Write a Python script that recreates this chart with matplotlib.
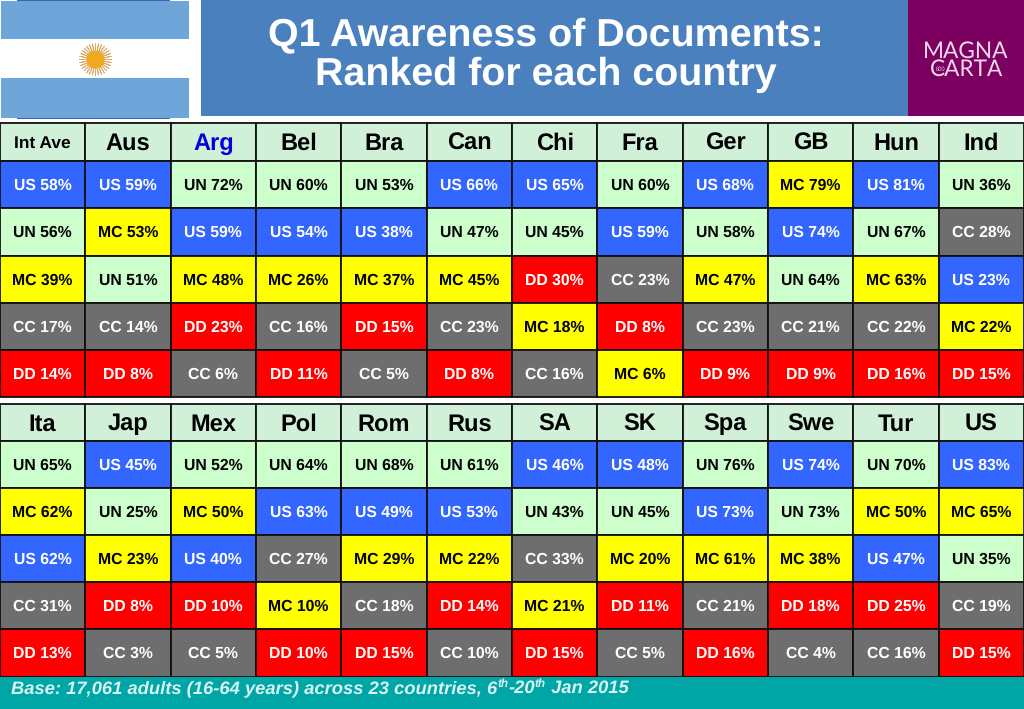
import matplotlib
matplotlib.use("Agg")
import matplotlib.pyplot as plt
from matplotlib.patches import Rectangle

plt.rcParams['font.family'] = ['Liberation Sans', 'DejaVu Sans']
plt.rcParams['text.hinting'] = 'no_hinting'
plt.rcParams['text.hinting_factor'] = 8

W, H = 1024, 709

top_names = ["Int Ave", "Aus", "Arg", "Bel", "Bra", "Can", "Chi", "Fra", "Ger", "GB", "Hun", "Ind"]
top_rows = [
    ["US 58%", "US 59%", "UN 72%", "UN 60%", "UN 53%", "US 66%", "US 65%", "UN 60%", "US 68%", "MC 79%", "US 81%", "UN 36%"],
    ["UN 56%", "MC 53%", "US 59%", "US 54%", "US 38%", "UN 47%", "UN 45%", "US 59%", "UN 58%", "US 74%", "UN 67%", "CC 28%"],
    ["MC 39%", "UN 51%", "MC 48%", "MC 26%", "MC 37%", "MC 45%", "DD 30%", "CC 23%", "MC 47%", "UN 64%", "MC 63%", "US 23%"],
    ["CC 17%", "CC 14%", "DD 23%", "CC 16%", "DD 15%", "CC 23%", "MC 18%", "DD 8%", "CC 23%", "CC 21%", "CC 22%", "MC 22%"],
    ["DD 14%", "DD 8%", "CC 6%", "DD 11%", "CC 5%", "DD 8%", "CC 16%", "MC 6%", "DD 9%", "DD 9%", "DD 16%", "DD 15%"],
]

bottom_names = ["Ita", "Jap", "Mex", "Pol", "Rom", "Rus", "SA", "SK", "Spa", "Swe", "Tur", "US"]
bottom_rows = [
    ["UN 65%", "US 45%", "UN 52%", "UN 64%", "UN 68%", "UN 61%", "US 46%", "US 48%", "UN 76%", "US 74%", "UN 70%", "US 83%"],
    ["MC 62%", "UN 25%", "MC 50%", "US 63%", "US 49%", "US 53%", "UN 43%", "UN 45%", "US 73%", "UN 73%", "MC 50%", "MC 65%"],
    ["US 62%", "MC 23%", "US 40%", "CC 27%", "MC 29%", "MC 22%", "CC 33%", "MC 20%", "MC 61%", "MC 38%", "US 47%", "UN 35%"],
    ["CC 31%", "DD 8%", "DD 10%", "MC 10%", "CC 18%", "DD 14%", "MC 21%", "DD 11%", "CC 21%", "DD 18%", "DD 25%", "CC 19%"],
    ["DD 13%", "CC 3%", "CC 5%", "DD 10%", "DD 15%", "CC 10%", "DD 15%", "CC 5%", "DD 16%", "CC 4%", "CC 16%", "DD 15%"],
]

cell_colors = {"US": "#3366ff", "UN": "#ccffcc", "MC": "#ffff00", "CC": "#6e6e6e", "DD": "#ff0000"}
text_colors = {"US": "white", "UN": "black", "MC": "black", "CC": "white", "DD": "white"}
header_color = "#d0f0d8"

fig = plt.figure(figsize=(W / 100, H / 100), dpi=100, facecolor="white")
ax = fig.add_axes([0, 0, 1, 1])
ax.set_xlim(0, W)
ax.set_ylim(H, 0)
ax.axis("off")


def box(x0, y0, x1, y1, color, **kw):
    ax.add_patch(Rectangle((x0, y0), x1 - x0, y1 - y0, facecolor=color, edgecolor=kw.pop("edge", "none"), **kw))


def draw_table(names, rows, y_edges):
    col_w = W / 12
    for c, name in enumerate(names):
        x0 = c * col_w
        box(x0, y_edges[0], x0 + col_w, y_edges[1], header_color, edge="#101010", linewidth=1.3)
        color = "#0000e0" if name == "Arg" else "black"
        size = 12.5 if name == "Int Ave" else 17
        drop = 6 if name == "Int Ave" else 8
        ax.text(x0 + col_w / 2, (y_edges[0] + y_edges[1]) / 2 + drop, name, ha="center", va="baseline",
                fontsize=size, fontweight="bold", color=color)
    for r, row in enumerate(rows):
        for c, label in enumerate(row):
            code = label[:2]
            x0 = c * col_w
            box(x0, y_edges[r + 1], x0 + col_w, y_edges[r + 2], cell_colors[code], edge="#101010", linewidth=1.3)
            ax.text(x0 + col_w / 2, (y_edges[r + 1] + y_edges[r + 2]) / 2 + 5, label, ha="center", va="baseline",
                    fontsize=11.3, fontweight="bold", color=text_colors[code])


# flag
box(17, 0, 170, 119, "#3f62a8")
box(1, 1, 189, 39, "#6fa6da")
box(1, 39, 189, 78, "white")
box(1, 78, 189, 118, "#6fa6da")
ax.scatter([94.5], [59], s=530, marker=(32, 2, 0), color="#dca868", linewidths=0.6, zorder=3)
ax.scatter([94.5], [59], s=170, color="#f0a820", linewidths=0, zorder=4)

# title band
box(201, 0, 908, 116, "#4a80bd")
ax.text(546, 45, "Q1 Awareness of Documents:", ha="center", va="baseline", fontsize=28.4, fontweight="bold", color="white")
ax.text(546, 85, "Ranked for each country", ha="center", va="baseline", fontsize=28.4, fontweight="bold", color="white")

# logo
box(908, 0, 1024, 116, "#7b0060")
ax.text(966, 51, "MAGNA", ha="center", va="center", fontsize=16.3, color="#f3d8ec", family="Lato")
ax.text(966.5, 69.5, "CARTA", ha="center", va="center", fontsize=16.3, color="#f3d8ec", family="Lato")
ax.text(941, 69, "800", ha="center", va="center", fontsize=4, color="#f3d8ec", family="Lato")

draw_table(top_names, top_rows, [123, 161, 208, 256, 303, 350, 397])
draw_table(bottom_names, bottom_rows, [404, 441, 488, 535, 582, 629, 677])

# footer, pieces laid end to end so the superscripts sit on one baseline
box(0, 677, W, H, "#00a5a5")
parts = [("Base: 17,061 adults (16-64 years) across 23 countries, 6", 0), ("th", 6), ("-20", 0), ("th", 6), (" Jan 2015", 0)]
renderer = fig.canvas.get_renderer()
x = 11
for txt, rise in parts:
    size = 8.5 if rise else 13.2
    t = ax.text(x, 693 - rise, txt, fontsize=size, fontweight="bold", fontstyle="italic", color="#d8f4f4",
                va="baseline", ha="left")
    x += t.get_window_extent(renderer).width

fig.savefig("out.png", dpi=100, facecolor="white")
